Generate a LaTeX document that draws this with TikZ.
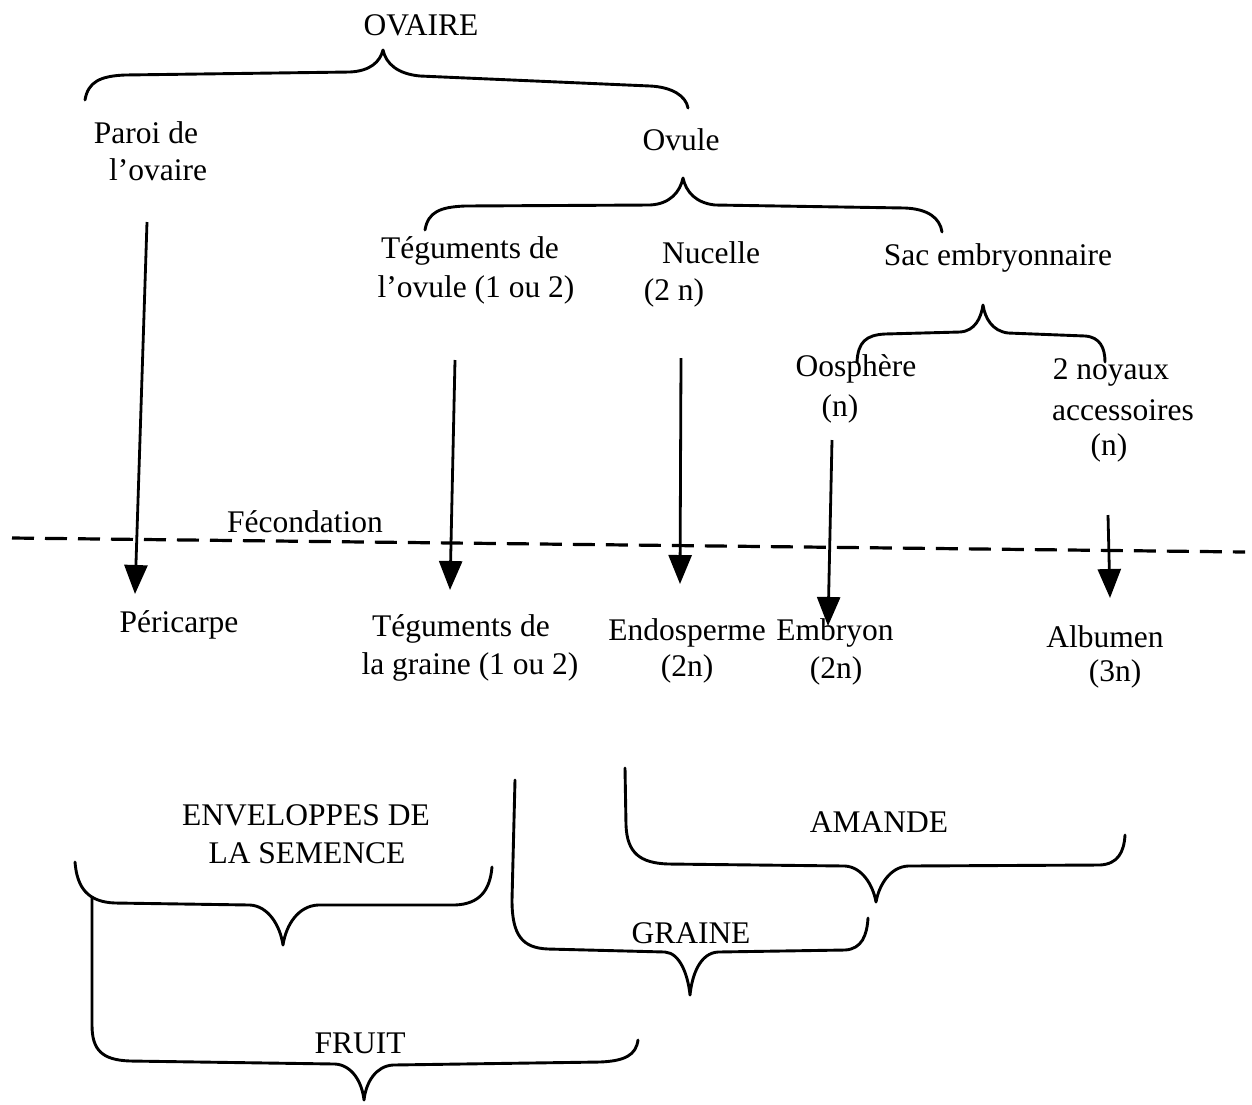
\documentclass[tikz,border=0pt]{standalone}
\usepackage{fontspec}
\setmainfont{Liberation Serif}
\usetikzlibrary{arrows.meta}
\begin{document}
\begin{tikzpicture}[x=1pt,y=-1pt,
  lbl/.style={inner sep=0pt,font=\fontsize{31.5}{38}\selectfont},
  brace/.style={line width=2.9pt,line cap=round,line join=round},
  arr/.style={line width=2.8pt,-{Triangle[length=29pt,width=23pt]}},
  fec/.style={line width=3.2pt,dash pattern=on 22pt off 11pt}]
\useasboundingbox (0,0) rectangle (1252,1104);
% texts
\node[lbl] (ovaire) at (421,25) {OVAIRE};
\node[lbl] (paroi1) at (146,133) {Paroi de};
\node[lbl] (paroi2) at (158,170) {l’ovaire};
\node[lbl] (ovule) at (681,140) {Ovule};
\node[lbl] (teg1) at (470,251) {Téguments de};
\node[lbl] (teg2) at (476,290) {l'ovule (1 ou 2)};
\node[lbl] (nuc1) at (711,253) {Nucelle};
\node[lbl] (nuc2) at (674,293) {(2 n)};
\node[lbl] (sac) at (998,258) {Sac embryonnaire};
\node[lbl] (oos1) at (856,369) {Oosphère};
\node[lbl] (oos2) at (840,409) {(n)};
\node[lbl] (noy1) at (1111,372) {2 noyaux};
\node[lbl] (noy2) at (1123,410) {accessoires};
\node[lbl] (noy3) at (1109,448) {(n)};
\node[lbl] (fecond) at (305,522) {Fécondation};
\node[lbl] (peri) at (179,625) {Péricarpe};
\node[lbl] (tgr1) at (461,629) {Téguments de};
\node[lbl] (tgr2) at (470,667) {la graine (1 ou 2)};
\node[lbl] (endo1) at (687,633) {Endosperme};
\node[lbl] (endo2) at (687,669) {(2n)};
\node[lbl] (emb1) at (835,633) {Embryon};
\node[lbl] (emb2) at (836,671) {(2n)};
\node[lbl] (alb1) at (1105,637) {Albumen};
\node[lbl] (alb2) at (1115,674) {(3n)};
\node[lbl] (env1) at (306,815) {ENVELOPPES DE};
\node[lbl] (env2) at (307,853) {LA SEMENCE};
\node[lbl] (amande) at (879,822) {AMANDE};
\node[lbl] (graine) at (691,933) {GRAINE};
\node[lbl] (fruit) at (360,1043) {FRUIT};
% arrow end points
\coordinate (a1s) at (147,222); \coordinate (a1e) at (135,594);
\coordinate (a2s) at (455,360); \coordinate (a2e) at (450,590);
\coordinate (a3s) at (681,358); \coordinate (a3e) at (680,584);
\coordinate (a4s) at (832,440); \coordinate (a4e) at (828,626);
\coordinate (a5s) at (1108,515); \coordinate (a5e) at (1110,598);
% dashed line
\coordinate (d1) at (12,538); \coordinate (d2) at (1245,552);
\draw[fec] (d1) -- (d2);
% arrows
\draw[arr] (a1s) -- (a1e);
\draw[arr] (a2s) -- (a2e);
\draw[arr] (a3s) -- (a3e);
\draw[arr] (a4s) -- (a4e);
\draw[arr] (a5s) -- (a5e);
% braces
\draw[brace] (85,100) .. controls (88,82) and (100,76) .. (125,75) -- (350,72)
  .. controls (370,71) and (380,62) .. (383,50) .. controls (386,64) and (398,74) .. (420,76)
  -- (650,86) .. controls (672,87) and (686,96) .. (688,108);
\draw[brace] (425,230) .. controls (428,212) and (440,207) .. (465,206) -- (650,205)
  .. controls (670,204) and (680,192) .. (683,178) .. controls (686,192) and (696,203) .. (715,205)
  -- (905,208) .. controls (928,209) and (940,218) .. (942,232);
\draw[brace] (857,362) .. controls (858,342) and (866,335) .. (885,334) -- (960,332)
  .. controls (975,331) and (981,318) .. (983,305) .. controls (985,318) and (992,331) .. (1008,333)
  -- (1085,336) .. controls (1100,337) and (1105,348) .. (1105,362);
\draw[brace] (75,862) .. controls (77,888) and (88,902) .. (115,903) -- (250,905)
  .. controls (268,906) and (280,925) .. (283,945) .. controls (286,925) and (298,906) .. (318,905)
  -- (455,905) .. controls (480,904) and (490,890) .. (492,867);
\draw[brace] (92,897) -- (92,1025) .. controls (92,1050) and (102,1060) .. (130,1061) -- (335,1064)
  .. controls (352,1065) and (362,1082) .. (364,1100) .. controls (366,1082) and (376,1066) .. (393,1065)
  -- (600,1062) .. controls (625,1061) and (636,1055) .. (638,1040);
\draw[brace] (515,780) -- (512,900) .. controls (512,935) and (522,948) .. (548,949) -- (665,952)
  .. controls (680,953) and (688,975) .. (690,995) .. controls (692,975) and (700,953) .. (718,952)
  -- (845,950) .. controls (862,949) and (867,935) .. (868,918);
\draw[brace] (625,768) -- (626,825) .. controls (627,853) and (640,863) .. (668,864) -- (845,866)
  .. controls (862,867) and (873,885) .. (876,902) .. controls (879,885) and (890,867) .. (908,866)
  -- (1100,865) .. controls (1118,864) and (1124,852) .. (1125,835);
\end{tikzpicture}
\end{document}
